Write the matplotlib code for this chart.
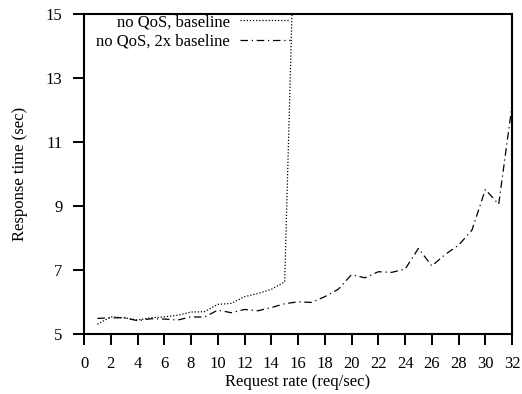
import matplotlib
matplotlib.use("Agg")
import matplotlib.pyplot as plt

# Request rates (req/sec)
rate_base = [1, 2, 3, 4, 5, 6, 7, 8, 9, 10, 11, 12, 13, 14, 15, 16]
resp_base = [5.31, 5.54, 5.51, 5.44, 5.51, 5.54, 5.59, 5.69, 5.70, 5.93,
             5.96, 6.17, 6.27, 6.40, 6.63, 22.0]

rate_2x = list(range(1, 33))
resp_2x = [5.49, 5.51, 5.51, 5.42, 5.48, 5.47, 5.44, 5.54, 5.53, 5.75,
           5.67, 5.77, 5.73, 5.83, 5.95, 6.01, 5.99, 6.17, 6.40, 6.86,
           6.76, 6.95, 6.93, 7.03, 7.68, 7.13, 7.49, 7.78, 8.25, 9.52,
           9.06, 12.16]

x_ticks = list(range(0, 33, 2))
y_ticks = [5, 7, 9, 11, 13, 15]

plt.rcParams["font.family"] = ["Liberation Serif", "DejaVu Serif"]
plt.rcParams["font.size"] = 12

fig = plt.figure(figsize=(5.22, 3.94), dpi=100)
ax = fig.add_axes([0.161, 0.152, 0.820, 0.812])

ax.plot(rate_base, resp_base, color="black", linestyle=(0, (1, 1.5)),
        linewidth=0.9, label="no QoS, baseline")
ax.plot(rate_2x, resp_2x, color="black", linestyle=(0, (6, 3, 1, 3)),
        linewidth=0.9, label="no QoS, 2x baseline")

ax.set_xlim(0, 32)
ax.set_ylim(5, 15)
ax.set_xticks(x_ticks)
ax.set_yticks(y_ticks)
ax.tick_params(direction="out", length=8, width=1.4, top=False, right=False,
               labelsize=12)
ax.tick_params(axis="x", pad=8)
ax.tick_params(axis="y", pad=7.5)
for sp in ax.spines.values():
    sp.set_linewidth(1.5)

ax.set_xlabel("Request rate (req/sec)", fontsize=12, labelpad=1)
ax.set_ylabel("Response time (sec)", fontsize=12, labelpad=13)

ax.legend(loc="upper right", bbox_to_anchor=(0.481, 1.0), frameon=False,
          markerfirst=False, handlelength=3.0, handletextpad=0.6,
          labelspacing=0.2, fontsize=12, borderpad=0.0, borderaxespad=0.0)

fig.savefig("out.png", dpi=100)
